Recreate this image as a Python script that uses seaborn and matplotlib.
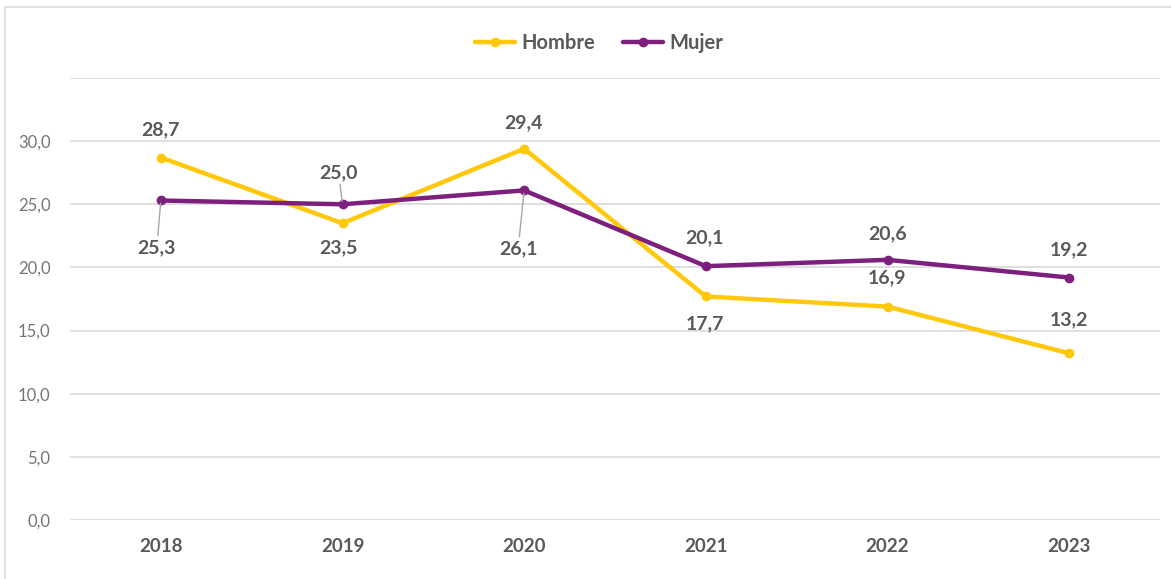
import pandas as pd
import numpy as np
import matplotlib
matplotlib.use("Agg")
import matplotlib.pyplot as plt
import matplotlib.patches as mpatches
import seaborn as sns

years = ['2018', '2019', '2020', '2021', '2022', '2023']
hombre = [28.7, 23.5, 29.4, 17.7, 16.9, 13.2]
mujer = [25.3, 25.0, 26.1, 20.1, 20.6, 19.2]

# label offsets in pixels (dx, dy) from each point, and whether a leader line is drawn
hombre_off = [(0, 28), (-4, -25), (-1, 26), (-1, -27), (0, 29), (0, 34)]
mujer_off = [(-4, -47), (-4, 32), (-6, -58), (-1, 28), (0, 26), (0, 28)]
mujer_leader = [True, True, True, False, False, False]

colors = {'Hombre': '#FFC80A', 'Mujer': '#7D1F7C'}
text_color = '#595959'

df = pd.DataFrame({
    'year': years * 2,
    'value': hombre + mujer,
    'sexo': ['Hombre'] * len(years) + ['Mujer'] * len(years),
})

sns.set_theme(style="white")
plt.rcParams['font.family'] = ['Lato', 'DejaVu Sans']

fig = plt.figure(figsize=(11.71, 5.79), dpi=100)
ax = fig.add_axes([70 / 1171, 59 / 579, 1090 / 1171, 442 / 579])

sns.lineplot(data=df, x='year', y='value', hue='sexo', palette=colors,
             marker='o', markersize=7, markeredgewidth=0, linewidth=3.2,
             sort=False, ax=ax)

ax.set_xlim(-0.5, len(years) - 0.5)
ax.set_ylim(0, 35)
ax.set_yticks(np.arange(0, 40, 5))
ax.set_yticklabels([f"{v:.1f}".replace('.', ',') if v <= 30 else '' for v in np.arange(0, 40, 5)],
                   fontsize=12, color='#757575')
ax.set_xticks(range(len(years)))
ax.set_xticklabels(years, fontsize=13.5, fontweight='bold', color=text_color)
ax.tick_params(axis='y', length=0, pad=14)
ax.tick_params(axis='x', length=0, pad=13)
ax.set_xlabel('')
ax.set_ylabel('')
ax.grid(axis='y', color='#D9D9D9', linewidth=1.2)
ax.grid(axis='x', visible=False)
ax.set_axisbelow(True)
for s in ax.spines.values():
    s.set_visible(False)

def fmt(v):
    return f"{v:.1f}".replace('.', ',')

for i, v in enumerate(hombre):
    ax.annotate(fmt(v), (i, v), xytext=hombre_off[i], textcoords='offset pixels',
                ha='center', va='center', fontsize=14, fontweight='bold', color=text_color)

for i, v in enumerate(mujer):
    arrow = dict(arrowstyle='-', color='#A6A6A6', lw=1, shrinkA=0, shrinkB=2) if mujer_leader[i] else None
    ax.annotate(fmt(v), (i, v), xytext=mujer_off[i], textcoords='offset pixels',
                ha='center', va='center', fontsize=14, fontweight='bold', color=text_color,
                arrowprops=arrow)

handles, labels = ax.get_legend_handles_labels()
ax.get_legend().remove()
leg = fig.legend(handles, labels, loc='center', bbox_to_anchor=(599 / 1171, 1 - 43 / 579),
                 ncol=2, frameon=False, handlelength=2.0, handletextpad=0.3,
                 columnspacing=1.4, prop={'weight': 'bold', 'size': 14.5})
for t in leg.get_texts():
    t.set_color(text_color)

# chart area border
fig.patches.append(mpatches.Rectangle((5 / 1171, -0.1), 1.1, 1 - 7 / 579 + 0.1,
                                      transform=fig.transFigure, fill=False,
                                      edgecolor='#D9D9D9', linewidth=1.2))

fig.savefig('out.png', dpi=100)
